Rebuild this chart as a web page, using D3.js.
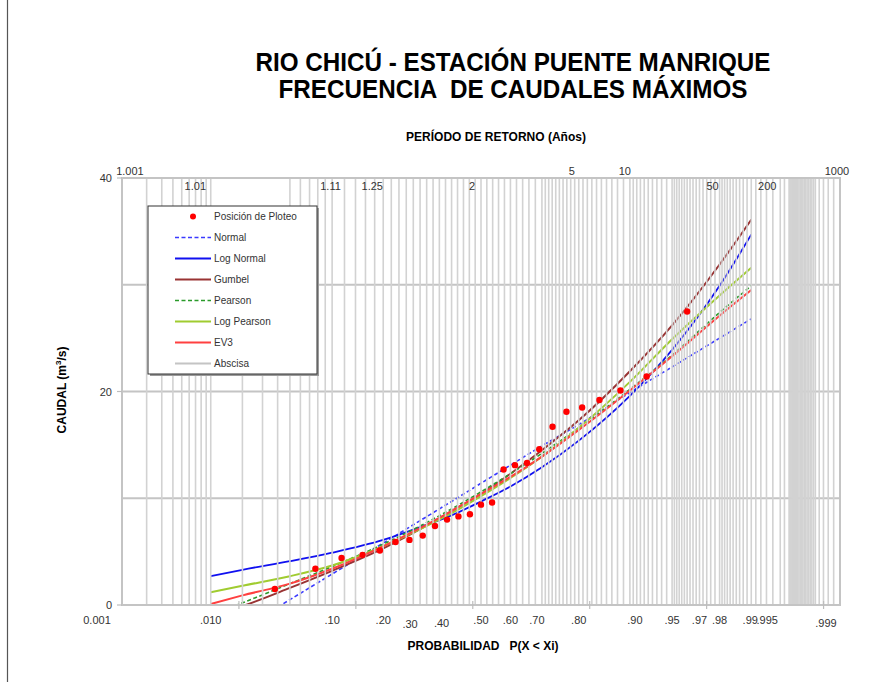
<!DOCTYPE html>
<html>
<head>
<meta charset="utf-8">
<script src="https://cdn.jsdelivr.net/npm/d3@7/dist/d3.min.js"></script>
<style>
  html, body { margin: 0; padding: 0; background: #fff; }
  svg { display: block; font-family: "Liberation Sans", Arial, sans-serif; }
</style>
</head>
<body>
<svg id="chart" width="891" height="682"></svg>
<script>
// Non-exceedance probabilities at which each fitted distribution is tabulated
const fitProb = [0.01, 0.02, 0.05, 0.1, 0.2, 0.3, 0.4, 0.5, 0.6, 0.7, 0.8, 0.9, 0.95, 0.98, 0.99];

// Fitted discharge (m3/s) for each distribution at fitProb
const normalQ     = [-3.9, -2.2, 0.5, 2.9, 5.8, 7.9, 9.7, 11.4, 13.1, 14.9, 16.9, 19.9, 22.3, 25.0, 26.8];
const logNormalQ  = [2.7, 3.3, 4.1, 4.9, 6.1, 7.3, 8.4, 9.7, 11.1, 12.9, 15.4, 19.6, 23.9, 29.9, 34.7];
const gumbelQ     = [-1.0, -0.1, 1.6, 3.2, 5.3, 7.1, 8.8, 10.4, 12.3, 14.5, 17.3, 21.9, 26.2, 31.9, 36.1];
const pearsonQ    = [-0.9, 0.2, 2.0, 3.6, 5.7, 7.4, 9.0, 10.6, 12.3, 14.2, 16.6, 20.2, 23.4, 27.4, 29.9];
const logPearsonQ = [1.2, 1.8, 2.7, 3.7, 5.5, 7.1, 8.6, 10.2, 11.9, 13.9, 16.6, 20.9, 24.9, 29.0, 31.6];
const ev3Q        = [0.1, 0.9, 2.0, 3.4, 5.5, 7.2, 8.8, 10.4, 12.0, 13.9, 16.4, 20.1, 23.3, 27.1, 29.5];

// Observed annual maxima (sorted) and their plotting positions
const obsProb = [0.038, 0.077, 0.115, 0.154, 0.192, 0.231, 0.269, 0.308, 0.346, 0.385, 0.423, 0.462, 0.500,
                 0.538, 0.577, 0.615, 0.654, 0.692, 0.731, 0.769, 0.808, 0.846, 0.885, 0.923, 0.962];
const obsQ    = [1.5, 3.4, 4.4, 4.7, 5.1, 5.9, 6.1, 6.5, 7.4, 8.0, 8.3, 8.5, 9.4,
                 9.6, 12.7, 13.1, 13.3, 14.6, 16.7, 18.1, 18.5, 19.2, 20.1, 21.4, 27.5];

// Axis labels
const probTickP     = [0.01, 0.1, 0.2, 0.3, 0.4, 0.5, 0.6, 0.7, 0.8, 0.9, 0.95, 0.97, 0.98, 0.99, 0.995, 0.999];
const probTickText  = [".010", ".10", ".20", ".30", ".40", ".50", ".60", ".70", ".80", ".90", ".95", ".97", ".98", ".99", ".995", ".999"];
const returnPeriods = ["1.001", "1.01", "1.11", "1.25", "2", "5", "10", "50", "200", "1000"];
const yTicks = [0, 20, 40];
const yGrid  = [10, 20, 30];

const seriesNames = ["Normal", "Log Normal", "Gumbel", "Pearson", "Log Pearson", "EV3"];
const seriesQ = [normalQ, logNormalQ, gumbelQ, pearsonQ, logPearsonQ, ev3Q];

// ---- styling ----
const styles = {
  "Normal":      { color: "#3a3aff", width: 1.6, dash: "4,2.5" },
  "Log Normal":  { color: "#1010f0", width: 1.8, dash: null },
  "Gumbel":      { color: "#993333", width: 2.0, dash: null },
  "Pearson":     { color: "#2a9a2a", width: 1.6, dash: "4,2.5" },
  "Log Pearson": { color: "#a0cc30", width: 2.0, dash: null },
  "EV3":         { color: "#ff4040", width: 2.0, dash: null }
};

// Inverse standard normal CDF (Acklam) for normal probability paper
function probit(p) {
  const a = [-3.969683028665376e+01, 2.209460984245205e+02, -2.759285104469687e+02, 1.383577518672690e+02, -3.066479806614716e+01, 2.506628277459239e+00];
  const b = [-5.447609879822406e+01, 1.615858368580409e+02, -1.556989798598866e+02, 6.680131188771972e+01, -1.328068155288572e+01];
  const c = [-7.784894002430293e-03, -3.223964580411365e-01, -2.400758277161838e+00, -2.549732539343734e+00, 4.374664141464968e+00, 2.938163982698783e+00];
  const d = [7.784695709041462e-03, 3.224671290700398e-01, 2.445134137142996e+00, 3.754408661907416e+00];
  const pl = 0.02425, ph = 1 - pl;
  if (p < pl) {
    const q = Math.sqrt(-2 * Math.log(p));
    return (((((c[0]*q+c[1])*q+c[2])*q+c[3])*q+c[4])*q+c[5]) / ((((d[0]*q+d[1])*q+d[2])*q+d[3])*q+1);
  }
  if (p <= ph) {
    const q = p - 0.5, r = q * q;
    return (((((a[0]*r+a[1])*r+a[2])*r+a[3])*r+a[4])*r+a[5])*q / (((((b[0]*r+b[1])*r+b[2])*r+b[3])*r+b[4])*r+1);
  }
  const q = Math.sqrt(-2 * Math.log(1 - p));
  return -(((((c[0]*q+c[1])*q+c[2])*q+c[3])*q+c[4])*q+c[5]) / ((((d[0]*q+d[1])*q+d[2])*q+d[3])*q+1);
}

const svg = d3.select("#chart");
const W = 891, H = 682;
const plot = { left: 122, right: 840, top: 178, bottom: 605 };

const zScale = d3.scaleLinear().domain([probit(0.001), probit(0.999)]).range([plot.left, plot.right]);
const xp = p => zScale(probit(p));
const y = d3.scaleLinear().domain([0, 40]).range([plot.bottom, plot.top]);

// outer frame line
svg.append("line").attr("x1", 7.5).attr("x2", 7.5).attr("y1", 0).attr("y2", H)
  .attr("stroke", "#555").attr("stroke-width", 1.2);

// titles
const title = svg.append("g").attr("font-weight", "bold").attr("fill", "#000").attr("text-anchor", "middle");
title.append("text").attr("x", 513).attr("y", 71).attr("font-size", 25)
  .attr("textLength", 515).attr("lengthAdjust", "spacingAndGlyphs")
  .text("RIO CHICÚ - ESTACIÓN PUENTE MANRIQUE");
title.append("text").attr("x", 513).attr("y", 98).attr("font-size", 25)
  .attr("xml:space", "preserve")
  .attr("textLength", 469).attr("lengthAdjust", "spacingAndGlyphs")
  .text("FRECUENCIA  DE CAUDALES MÁXIMOS");

svg.append("text").attr("x", 496).attr("y", 141).attr("text-anchor", "middle")
  .attr("font-size", 12).attr("font-weight", "bold").text("PERÍODO DE RETORNO (Años)");

svg.append("text").attr("x", 483).attr("y", 650).attr("text-anchor", "middle")
  .attr("font-size", 12).attr("font-weight", "bold").attr("xml:space", "preserve")
  .text("PROBABILIDAD   P(X < Xi)");

const yt = svg.append("text").attr("transform", "translate(66,390) rotate(-90)")
  .attr("text-anchor", "middle").attr("font-size", 12).attr("font-weight", "bold");
yt.append("tspan").text("CAUDAL (m");
yt.append("tspan").attr("font-size", 8).attr("dy", -5).text("3");
yt.append("tspan").attr("dy", 5).text("/s)");

// clip region for the fitted curves
svg.append("defs").append("clipPath").attr("id", "plotClip")
  .append("rect").attr("x", plot.left).attr("y", plot.top)
  .attr("width", plot.right - plot.left).attr("height", plot.bottom - plot.top);

// horizontal grid
svg.append("g").selectAll("line").data(yGrid).join("line")
  .attr("x1", plot.left).attr("x2", plot.right)
  .attr("y1", d => y(d)).attr("y2", d => y(d))
  .attr("stroke", "#c4c4c4").attr("stroke-width", 2);

// fitted curves
const line = d3.line().x(d => xp(d[0])).y(d => y(d[1])).curve(d3.curveMonotoneX);
const curves = svg.append("g").attr("clip-path", "url(#plotClip)");
seriesNames.forEach((name, i) => {
  const s = styles[name];
  curves.append("path")
    .datum(fitProb.map((p, j) => [p, seriesQ[i][j]]))
    .attr("d", line).attr("fill", "none")
    .attr("stroke", s.color).attr("stroke-width", s.width)
    .attr("stroke-dasharray", s.dash);
});

// vertical probability grid ("Abscisa"); the 0.02-0.04 lines stop below the top edge
const shortGrid = [0.02, 0.03, 0.04];
const gridP = [].concat(
  d3.range(0.002, 0.0100001, 0.001),
  d3.range(0.02, 0.1000001, 0.01),
  d3.range(0.12, 0.7000001, 0.02),
  d3.range(0.71, 0.9000001, 0.01),
  d3.range(0.905, 0.9500001, 0.005),
  d3.range(0.952, 0.9800001, 0.002),
  d3.range(0.981, 0.9950001, 0.001),
  [0.9955],
  d3.range(0.996, 0.9980001, 0.0001),
  d3.range(0.9982, 0.9989001, 0.0002)
);
svg.append("g").selectAll("line").data(gridP).join("line")
  .attr("x1", d => xp(d)).attr("x2", d => xp(d))
  .attr("y1", d => shortGrid.some(s => Math.abs(s - d) < 1e-6) ? y(37) : plot.top)
  .attr("y2", plot.bottom)
  .attr("stroke", "#d2d2d2").attr("stroke-width", 1.6);

// axes frame
svg.append("rect").attr("x", plot.left).attr("y", plot.top)
  .attr("width", plot.right - plot.left).attr("height", plot.bottom - plot.top)
  .attr("fill", "none").attr("stroke", "#c4c4c4").attr("stroke-width", 2);

// small ticks on the probability axis
const zTicks = d3.range(probit(0.001) + 1.0065, probit(0.999), 1.0065);
svg.append("g").selectAll("line").data(zTicks).join("line")
  .attr("x1", d => zScale(d)).attr("x2", d => zScale(d))
  .attr("y1", plot.bottom - 4).attr("y2", plot.bottom + 4)
  .attr("stroke", "#bdbdbd").attr("stroke-width", 1.2);

// y ticks and labels
const yAxis = svg.append("g");
yAxis.selectAll("line").data(yTicks).join("line")
  .attr("x1", plot.left - 5).attr("x2", plot.left)
  .attr("y1", d => y(d)).attr("y2", d => y(d))
  .attr("stroke", "#bdbdbd").attr("stroke-width", 1.2);
yAxis.selectAll("text").data(yTicks).join("text")
  .attr("x", plot.left - 10).attr("y", d => y(d) + 4)
  .attr("text-anchor", "end").attr("font-size", 11).attr("fill", "#333")
  .text(d => d);

// bottom probability labels
const bottomNudge = { ".30": -10, ".40": -10, ".70": -5, ".90": 5, ".995": -13, ".999": -14, ".010": 0 };
const bottomLift  = { ".30": 4, ".40": 3, ".999": 3 };
const bl = svg.append("g").attr("font-size", 11).attr("fill", "#333").attr("text-anchor", "middle");
bl.append("text").attr("x", 97).attr("y", 624).text("0.001");
probTickP.forEach((p, i) => {
  const t = probTickText[i];
  bl.append("text")
    .attr("x", xp(p) + (bottomNudge[t] || 0) - (t === ".99" ? 1 : 0))
    .attr("y", 624 + (bottomLift[t] || 0))
    .text(t);
});

// return period labels along the top (T = 1 / (1 - P))
const tl = svg.append("g").attr("font-size", 11).attr("fill", "#333").attr("text-anchor", "middle");
const topNudge = { "1.001": 8, "1.01": -15, "1.11": -1, "1.25": -11, "2": -9, "5": -7, "10": -5, "50": -7, "200": -13, "1000": -3 };
const topRow   = { "1.001": 0, "1.01": 1, "1.11": 1, "1.25": 1, "2": 1, "5": 0, "10": 0, "50": 1, "200": 1, "1000": 0 };
returnPeriods.forEach(t => {
  const p = 1 - 1 / (+t);
  tl.append("text")
    .attr("x", xp(p) + topNudge[t])
    .attr("y", topRow[t] ? 190 : 175)
    .text(t);
});

// observed points
svg.append("g").selectAll("circle").data(obsProb.map((p, i) => [p, obsQ[i]])).join("circle")
  .attr("cx", d => xp(d[0])).attr("cy", d => y(d[1])).attr("r", 3.2)
  .attr("fill", "#ff0000");

// legend
const lg = svg.append("g");
const box = { x: 148, y: 206, w: 169, h: 168 };
lg.append("rect").attr("x", box.x + 2).attr("y", box.y + 2).attr("width", box.w).attr("height", box.h)
  .attr("fill", "#9a9a9a");
lg.append("rect").attr("x", box.x).attr("y", box.y).attr("width", box.w).attr("height", box.h)
  .attr("fill", "#fff").attr("stroke", "#333").attr("stroke-width", 1);
const legendItems = ["Posición de Ploteo"].concat(seriesNames, ["Abscisa"]);
legendItems.forEach((name, i) => {
  const cy = 216.5 + i * 21;
  if (i === 0) {
    lg.append("circle").attr("cx", 193).attr("cy", cy).attr("r", 3).attr("fill", "#ff0000");
  } else {
    const s = styles[name] || { color: "#c4c4c4", width: 2, dash: null };
    lg.append("line").attr("x1", 175).attr("x2", 211).attr("y1", cy).attr("y2", cy)
      .attr("stroke", s.color).attr("stroke-width", s.width).attr("stroke-dasharray", s.dash);
  }
  lg.append("text").attr("x", 214).attr("y", cy + 3.5).attr("font-size", 10).attr("fill", "#333").text(name);
});
</script>
</body>
</html>
